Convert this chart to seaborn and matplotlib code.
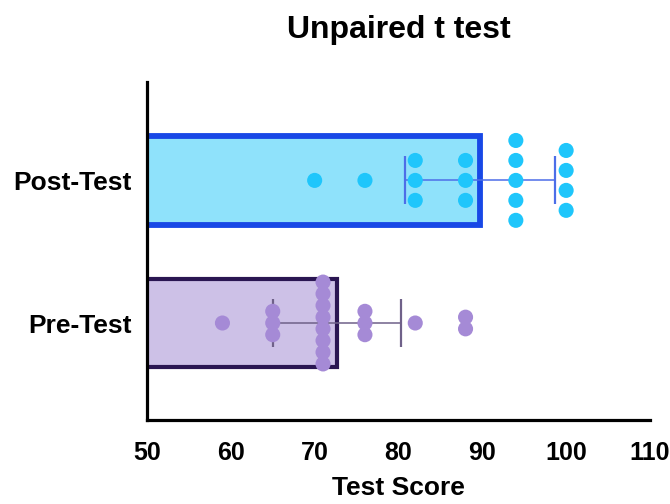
import numpy as np
import pandas as pd
import matplotlib
matplotlib.use("Agg")
import matplotlib.pyplot as plt
import seaborn as sns

# -------------------- data --------------------
groups = ["Post-Test", "Pre-Test"]
post_scores = [70, 76, 82, 82, 82, 88, 88, 88, 94, 94, 94, 94, 94, 100, 100, 100, 100]
pre_scores = [59, 65, 65, 65, 71, 71, 71, 71, 71, 71, 71, 71, 76, 76, 76, 82, 88, 88]

fill_colors = ["#8fe2fb", "#cdc1e7"]
edge_colors = ["#1848e6", "#2a1652"]
dot_colors = ["#1fc6fb", "#a58ad6"]
err_colors = ["#4d6ee8", "#6f6189"]
edge_widths = [4.2, 3.0]
dot_spacing = [0.14, 0.082]   # vertical spacing of stacked dots (category units)

df = pd.DataFrame({
    "group": ["Post-Test"] * len(post_scores) + ["Pre-Test"] * len(pre_scores),
    "score": post_scores + pre_scores,
})

sns.set_style("white")
plt.rcParams["font.family"] = ["Liberation Sans", "DejaVu Sans"]
plt.rcParams["font.weight"] = "bold"
plt.rcParams["text.color"] = "black"
plt.rcParams["xtick.color"] = "black"
plt.rcParams["ytick.color"] = "black"
plt.rcParams["axes.labelcolor"] = "black"

fig = plt.figure(figsize=(6.7, 5.04), dpi=100)
ax = fig.add_axes([0.2194, 0.1667, 0.7507, 0.6706])

# bars = group means
sns.barplot(data=df, x="score", y="group", order=groups, hue="group",
            palette=fill_colors, saturation=1, errorbar=None, width=0.62,
            orient="h", legend=False, ax=ax, zorder=1)
for i, patch in enumerate(ax.patches):
    patch.set_edgecolor(edge_colors[i])
    patch.set_linewidth(edge_widths[i])

# mean +/- SD error bars, then the individual points stacked per value
for i, g in enumerate(groups):
    vals = df.loc[df.group == g, "score"].to_numpy()
    m, sd = vals.mean(), vals.std(ddof=1)
    ax.errorbar(m, i, xerr=sd, color=err_colors[i], lw=1.1, capsize=17,
                capthick=1.6, zorder=2)
    ys = np.zeros(len(vals), dtype=float)
    for v in np.unique(vals):
        idx = np.where(vals == v)[0]
        ys[idx] = i + (np.arange(len(idx)) - (len(idx) - 1) / 2) * dot_spacing[i]
    ax.scatter(vals, ys, s=118, color=dot_colors[i], edgecolor="none", zorder=3)

ax.set_xlim(50, 110)
ax.set_xticks(np.arange(50, 111, 10))
ax.set_ylim(1.68, -0.69)

for side in ["top", "right"]:
    ax.spines[side].set_visible(False)
for side in ["left", "bottom"]:
    ax.spines[side].set_linewidth(2.3)
    ax.spines[side].set_color("black")

ax.tick_params(axis="x", length=8, width=2.3, labelsize=18, pad=7)
ax.tick_params(axis="y", length=7, width=2.3, labelsize=19, pad=4)
for lab in ax.get_xticklabels() + ax.get_yticklabels():
    lab.set_fontweight("bold")

ax.set_ylabel("")
ax.set_xlabel("Test Score", fontsize=19, fontweight="bold", labelpad=8)
fig.text(0.595, 0.94, "Unpaired t test", ha="center", va="center",
         fontsize=23, fontweight="bold")

plt.savefig("out.png", dpi=100)
